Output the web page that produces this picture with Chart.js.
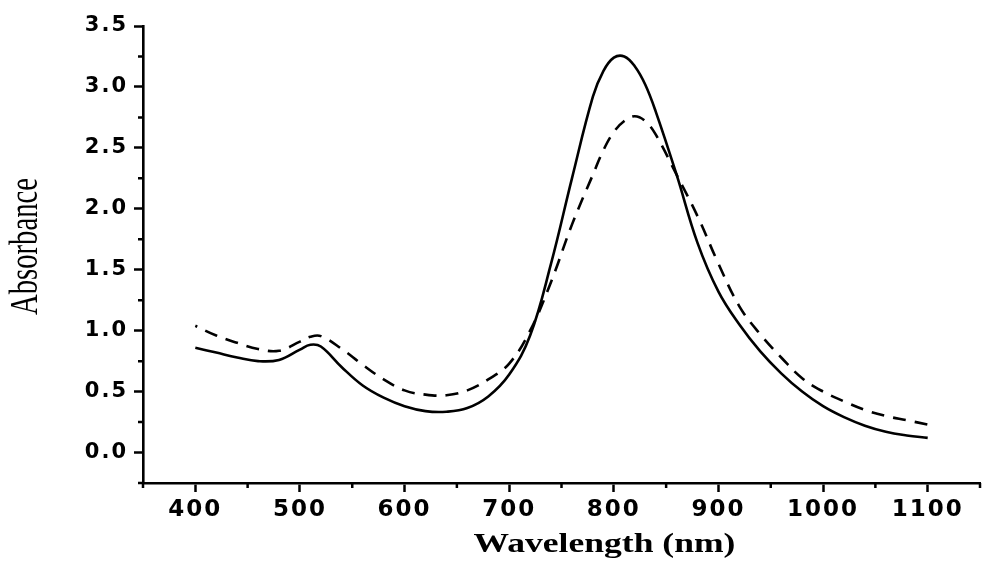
<!DOCTYPE html>
<html>
<head>
<meta charset="utf-8">
<script src="https://cdn.jsdelivr.net/npm/chart.js@4/dist/chart.umd.min.js"></script>
<style>
    html, body { margin: 0; padding: 0; background: #fff; }
    #chartBox { width: 1000px; height: 571px; }
</style>
</head>
<body>
<div id="chartBox"><canvas id="spectrumChart"></canvas></div>
<script>
// Data
const wavelengths = [400, 420, 440, 460, 480, 500, 510, 520, 540, 560, 580, 600, 620, 640, 660, 680, 700, 720, 740, 760,
    780, 790, 800, 810, 820, 830, 840, 860, 880, 900, 920, 940, 960, 980, 1000, 1020, 1040, 1060, 1080, 1100];
const solidAbs = [0.86, 0.82, 0.78, 0.75, 0.76, 0.845, 0.885, 0.87, 0.70, 0.55, 0.45, 0.38, 0.34, 0.335, 0.365, 0.46, 0.64, 0.96, 1.55, 2.25,
    2.92, 3.13, 3.24, 3.25, 3.17, 3.02, 2.80, 2.28, 1.72, 1.32, 1.05, 0.83, 0.65, 0.50, 0.38, 0.29, 0.22, 0.17, 0.14, 0.12];
const dashedAbs = [1.04, 0.96, 0.90, 0.85, 0.835, 0.91, 0.95, 0.955, 0.85, 0.72, 0.60, 0.51, 0.475, 0.47, 0.51, 0.60, 0.73, 1.00, 1.40, 1.87,
    2.28, 2.48, 2.63, 2.72, 2.76, 2.72, 2.61, 2.28, 1.94, 1.55, 1.20, 0.97, 0.78, 0.61, 0.50, 0.42, 0.35, 0.30, 0.265, 0.23];

const xTicks = [400, 500, 600, 700, 800, 900, 1000, 1100];
const xMinorTicks = [350, 450, 550, 650, 750, 850, 950, 1050, 1150];
const yTicks = [0, 0.5, 1.0, 1.5, 2.0, 2.5, 3.0, 3.5];
const yMinorTicks = [-0.25, 0.25, 0.75, 1.25, 1.75, 2.25, 2.75, 3.25];

const xTitle = 'Wavelength (nm)';
const yTitle = 'Absorbance';



const toPoints = (values) => wavelengths.map((w, i) => ({ x: w, y: values[i] }));

// letter spacing for tick labels, minor ticks and axis titles
const axisExtras = {
    id: 'axisExtras',
    beforeDraw: (chart) => {
        chart.ctx.letterSpacing = '2px';
    },
    afterDraw: (chart) => {
        const ctx = chart.ctx;
        const { left, right, top, bottom } = chart.chartArea;
        const xScale = chart.scales.x;
        const yScale = chart.scales.y;

        ctx.save();
        ctx.letterSpacing = '0px';
        ctx.strokeStyle = '#000';
        ctx.lineWidth = 2.5;
        ctx.beginPath();
        xMinorTicks.forEach((v) => {
            const px = xScale.getPixelForValue(v);
            ctx.moveTo(px, bottom);
            ctx.lineTo(px, bottom + 5);
        });
        yMinorTicks.forEach((v) => {
            const py = yScale.getPixelForValue(v);
            ctx.moveTo(left, py);
            ctx.lineTo(left - 5, py);
        });
        ctx.stroke();

        ctx.fillStyle = '#000';
        ctx.textAlign = 'center';
        ctx.textBaseline = 'alphabetic';

        ctx.save();
        ctx.font = 'bold 28px "Liberation Serif"';
        ctx.translate((left + right) / 2 + 43, bottom + 69);
        ctx.scale(1.27, 1);
        ctx.fillText(xTitle, 0, 0);
        ctx.restore();

        ctx.save();
        ctx.font = '40px "Liberation Serif"';
        ctx.translate(37, (top + bottom) / 2 - 8);
        ctx.rotate(-Math.PI / 2);
        ctx.scale(0.717, 1);
        ctx.fillText(yTitle, 0, 0);
        ctx.restore();

        ctx.restore();
    }
};

const spectrumChartElem = document.getElementById('spectrumChart');
const spectrumChart = new Chart(spectrumChartElem, {
    type: 'line',
    data: {
        datasets: [{
            label: 'solid',
            data: toPoints(solidAbs),
            borderColor: '#000',
            borderWidth: 2.6,
            pointRadius: 0,
            tension: 0.4,
            fill: false
        }, {
            label: 'dashed',
            data: toPoints(dashedAbs),
            borderColor: '#000',
            borderWidth: 2.6,
            borderDash: [13, 9],
            borderDashOffset: 11,
            pointRadius: 0,
            tension: 0.4,
            fill: false
        }]
    },
    options: {
        responsive: true,
        maintainAspectRatio: false,
        animation: false,
        layout: {
            padding: { top: 26, right: 20, left: 0, bottom: 0 }
        },
        plugins: {
            legend: { display: false },
            tooltip: { enabled: false }
        },
        scales: {
            x: {
                type: 'linear',
                min: 350,
                max: 1150,
                afterBuildTicks: (scale) => {
                    scale.ticks = xTicks.map((v) => ({ value: v }));
                },
                afterFit: (scale) => {
                    scale.height = 88;
                },
                border: { display: true, color: '#000', width: 2.6 },
                grid: {
                    drawOnChartArea: false,
                    drawTicks: true,
                    tickLength: 9,
                    tickWidth: 2.5,
                    tickColor: '#000'
                },
                ticks: {
                    color: '#000',
                    padding: 4,
                    maxRotation: 0,
                    autoSkip: false,
                    callback: (v) => String(v),
                    font: { family: 'DejaVu Sans', weight: 'bold', size: 23 }
                },
                title: { display: false }
            },
            y: {
                min: -0.25,
                max: 3.5,
                afterBuildTicks: (scale) => {
                    scale.ticks = yTicks.map((v) => ({ value: v }));
                },
                afterFit: (scale) => {
                    scale.width = 143;
                },
                border: { display: true, color: '#000', width: 2.6 },
                grid: {
                    drawOnChartArea: false,
                    drawTicks: true,
                    tickLength: 9,
                    tickWidth: 2.5,
                    tickColor: '#000'
                },
                ticks: {
                    color: '#000',
                    padding: 6,
                    callback: (v) => Number(v).toFixed(1),
                    font: { family: 'DejaVu Sans', weight: 'bold', size: 21 }
                },
                title: { display: false }
            }
        }
    },
    plugins: [axisExtras]
});
</script>
</body>
</html>
